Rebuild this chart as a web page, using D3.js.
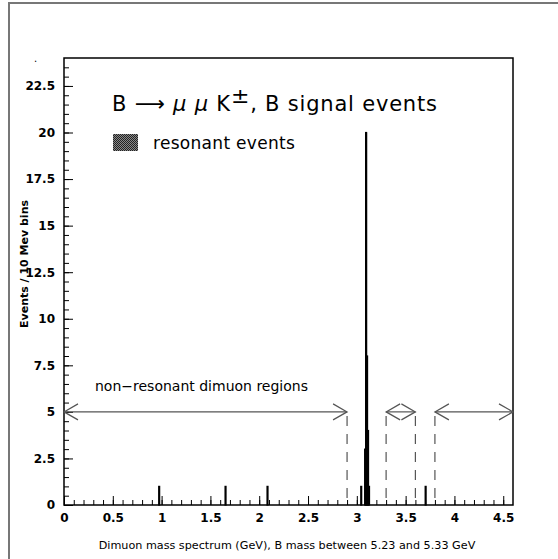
<!DOCTYPE html>
<html>
<head>
<meta charset="utf-8">
<script src="https://cdn.jsdelivr.net/npm/d3@7"></script>
<style>
  body { margin: 0; background: #fff; }
  text { font-family: "DejaVu Sans", sans-serif; fill: #000; }
</style>
</head>
<body>
<svg id="chart" width="558" height="559"></svg>
<script>
// histogram bins: low edge (GeV) and counts, 10 MeV wide
const BIN_WIDTH = 0.01;
const totalEdges = [ 0.97, 1.65, 2.08, 3.04, 3.08, 3.09, 3.10, 3.11, 3.12, 3.70 ];
const totalCounts = [ 1, 1, 1, 1, 3, 20, 8, 4, 1, 1 ];
const resonantEdges = [ 3.08, 3.09, 3.10, 3.11, 3.12 ];
const resonantCounts = [ 3, 20, 8, 4, 1 ];

// non-resonant regions drawn as arrows at a fixed height
const regionStarts = [ 0, 3.3, 3.8 ];
const regionEnds = [ 2.9, 3.6, 4.6 ];
const ARROW_LEVEL = 5;

const yMajorTicks = [ 0, 2.5, 5, 7.5, 10, 12.5, 15, 17.5, 20, 22.5 ];
const xMajorTicks = [ 0, 0.5, 1, 1.5, 2, 2.5, 3, 3.5, 4, 4.5 ];

const svg = d3.select( "#chart" );
const MARGINS = { top: 58, right: 45, bottom: 54, left: 64 };
const WIDTH = 558;
const HEIGHT = 559;

const x = d3.scaleLinear().domain( [ 0, 4.6 ] ).range( [ MARGINS.left, WIDTH - MARGINS.right ] );
const y = d3.scaleLinear().domain( [ 0, 24 ] ).range( [ HEIGHT - MARGINS.bottom, MARGINS.top ] );

// outer pad frame (top and left only)
svg.append( "path" )
  .attr( "d", `M9,${HEIGHT} V3 H${WIDTH}` )
  .attr( "fill", "none" )
  .attr( "stroke", "#777" )
  .attr( "stroke-width", 2 );

// dotted fill for resonant events
const defs = svg.append( "defs" );
const pat = defs.append( "pattern" )
  .attr( "id", "dots" )
  .attr( "patternUnits", "userSpaceOnUse" )
  .attr( "width", 2 ).attr( "height", 2 );
pat.append( "rect" ).attr( "width", 2 ).attr( "height", 2 ).attr( "fill", "#888" );
pat.append( "rect" ).attr( "width", 1 ).attr( "height", 1 ).attr( "fill", "#222" );
pat.append( "rect" ).attr( "x", 1 ).attr( "y", 1 ).attr( "width", 1 ).attr( "height", 1 ).attr( "fill", "#222" );

// axes, ticks pointing inwards
const xMinor = d3.range( 0, 46 ).map( i => i / 10 );
const yMinor = d3.range( 0, 48 ).map( i => i / 2 );

const xAxisG = svg.append( "g" )
  .attr( "transform", `translate(0,${y( 0 )})` );
xAxisG.append( "g" ).call( d3.axisBottom( x ).tickValues( xMinor ).tickSize( -5 ).tickFormat( "" ) );
xAxisG.append( "g" ).call( d3.axisBottom( x ).tickValues( xMajorTicks ).tickSize( -9 ).tickPadding( 8 )
  .tickFormat( d => String( d ) ) );

const yAxisG = svg.append( "g" )
  .attr( "transform", `translate(${x( 0 )},0)` );
yAxisG.append( "g" ).call( d3.axisLeft( y ).tickValues( yMinor ).tickSize( -5 ).tickFormat( "" ) );
yAxisG.append( "g" ).call( d3.axisLeft( y ).tickValues( yMajorTicks ).tickSize( -9 ).tickPadding( 9 )
  .tickFormat( d => String( d ) ) );

svg.selectAll( ".domain" ).remove();
svg.selectAll( ".tick line" ).attr( "stroke", "#000" );
svg.selectAll( ".tick text" )
  .attr( "font-size", 12 )
  .attr( "font-weight", "bold" )
  .attr( "font-family", "Liberation Sans, Arial, sans-serif" );

// frame
svg.append( "rect" )
  .attr( "x", x( 0 ) ).attr( "y", y( 24 ) )
  .attr( "width", x( 4.6 ) - x( 0 ) ).attr( "height", y( 0 ) - y( 24 ) )
  .attr( "fill", "none" ).attr( "stroke", "#000" ).attr( "stroke-width", 1.5 );

// resonant fill
const resonant = resonantEdges.map( ( e, i ) => ( { e, n: resonantCounts[i] } ) );
svg.append( "g" ).selectAll( "rect" )
  .data( resonant )
  .enter()
  .append( "rect" )
  .attr( "x", d => x( d.e ) )
  .attr( "y", d => y( d.n ) )
  .attr( "width", x( BIN_WIDTH ) - x( 0 ) )
  .attr( "height", d => y( 0 ) - y( d.n ) )
  .attr( "fill", "url(#dots)" );

// total histogram outline
const total = totalEdges.map( ( e, i ) => ( { e, n: totalCounts[i] } ) );
svg.append( "g" ).selectAll( "rect" )
  .data( total )
  .enter()
  .append( "rect" )
  .attr( "x", d => x( d.e ) )
  .attr( "y", d => y( d.n ) )
  .attr( "width", x( BIN_WIDTH ) - x( 0 ) )
  .attr( "height", d => y( 0 ) - y( d.n ) )
  .attr( "fill", "none" )
  .attr( "stroke", "#000" )
  .attr( "stroke-width", 1.2 );
// the tallest bin reads as a solid black line
svg.append( "g" ).selectAll( "rect" )
  .data( total.filter( d => d.n > 8 ) )
  .enter()
  .append( "rect" )
  .attr( "x", d => x( d.e ) - 0.5 )
  .attr( "y", d => y( d.n ) )
  .attr( "width", x( BIN_WIDTH ) - x( 0 ) + 1 )
  .attr( "height", d => y( 0 ) - y( d.n ) )
  .attr( "fill", "#000" );

// region arrows
const arrows = svg.append( "g" ).attr( "stroke", "#555" ).attr( "fill", "none" ).attr( "stroke-width", 1.2 );
const ay = y( ARROW_LEVEL );
regionStarts.forEach( ( s, i ) => {
  const x0 = x( s ), x1 = x( regionEnds[i] );
  arrows.append( "line" ).attr( "x1", x0 ).attr( "x2", x1 ).attr( "y1", ay ).attr( "y2", ay );
  arrows.append( "path" ).attr( "d", `M${x0 + 14},${ay - 8} L${x0},${ay} L${x0 + 14},${ay + 8}` );
  arrows.append( "path" ).attr( "d", `M${x1 - 14},${ay - 8} L${x1},${ay} L${x1 - 14},${ay + 8}` );
  [ s, regionEnds[i] ].forEach( v => {
    if ( v > 0 && v < 4.6 )
      arrows.append( "line" )
        .attr( "x1", x( v ) ).attr( "x2", x( v ) )
        .attr( "y1", ay + 4 ).attr( "y2", y( 0 ) )
        .attr( "stroke-dasharray", "10,8" );
  } );
} );

// texts
const title = svg.append( "text" )
  .attr( "x", 112 ).attr( "y", 111 )
  .attr( "font-size", 21 )
  .attr( "letter-spacing", 0.8 );
title.append( "tspan" ).text( "B \u27f6 " );
title.append( "tspan" ).attr( "font-style", "italic" ).text( "\u03bc \u03bc" );
title.append( "tspan" ).text( " K" );
title.append( "tspan" ).attr( "dy", -8 ).attr( "font-size", 22 ).text( "\u00b1" );
title.append( "tspan" ).attr( "dy", 8 ).text( ", B signal events" );

svg.append( "rect" )
  .attr( "x", 113 ).attr( "y", 134 ).attr( "width", 25 ).attr( "height", 17 )
  .attr( "fill", "url(#dots)" );
svg.append( "text" )
  .attr( "x", 153 ).attr( "y", 149 )
  .attr( "font-size", 17 )
  .attr( "letter-spacing", 0.3 )
  .text( "resonant events" );

svg.append( "text" )
  .attr( "x", 95 ).attr( "y", 391 )
  .attr( "font-size", 14 )
  .text( "non\u2212resonant dimuon regions" );

svg.append( "text" )
  .attr( "transform", "translate(28,264) rotate(-90)" )
  .attr( "text-anchor", "middle" )
  .attr( "font-size", 11 )
  .attr( "font-weight", "bold" )
  .attr( "font-family", "Liberation Sans, Arial, sans-serif" )
  .text( "Events / 10 Mev bins" );

svg.append( "text" )
  .attr( "x", 287 ).attr( "y", 549 )
  .attr( "text-anchor", "middle" )
  .attr( "font-size", 11.2 )
  .text( "Dimuon mass spectrum (GeV), B mass between 5.23 and 5.33 GeV" );

svg.append( "text" ).attr( "x", 34 ).attr( "y", 62 ).attr( "font-size", 10 ).text( "." );
</script>
</body>
</html>
